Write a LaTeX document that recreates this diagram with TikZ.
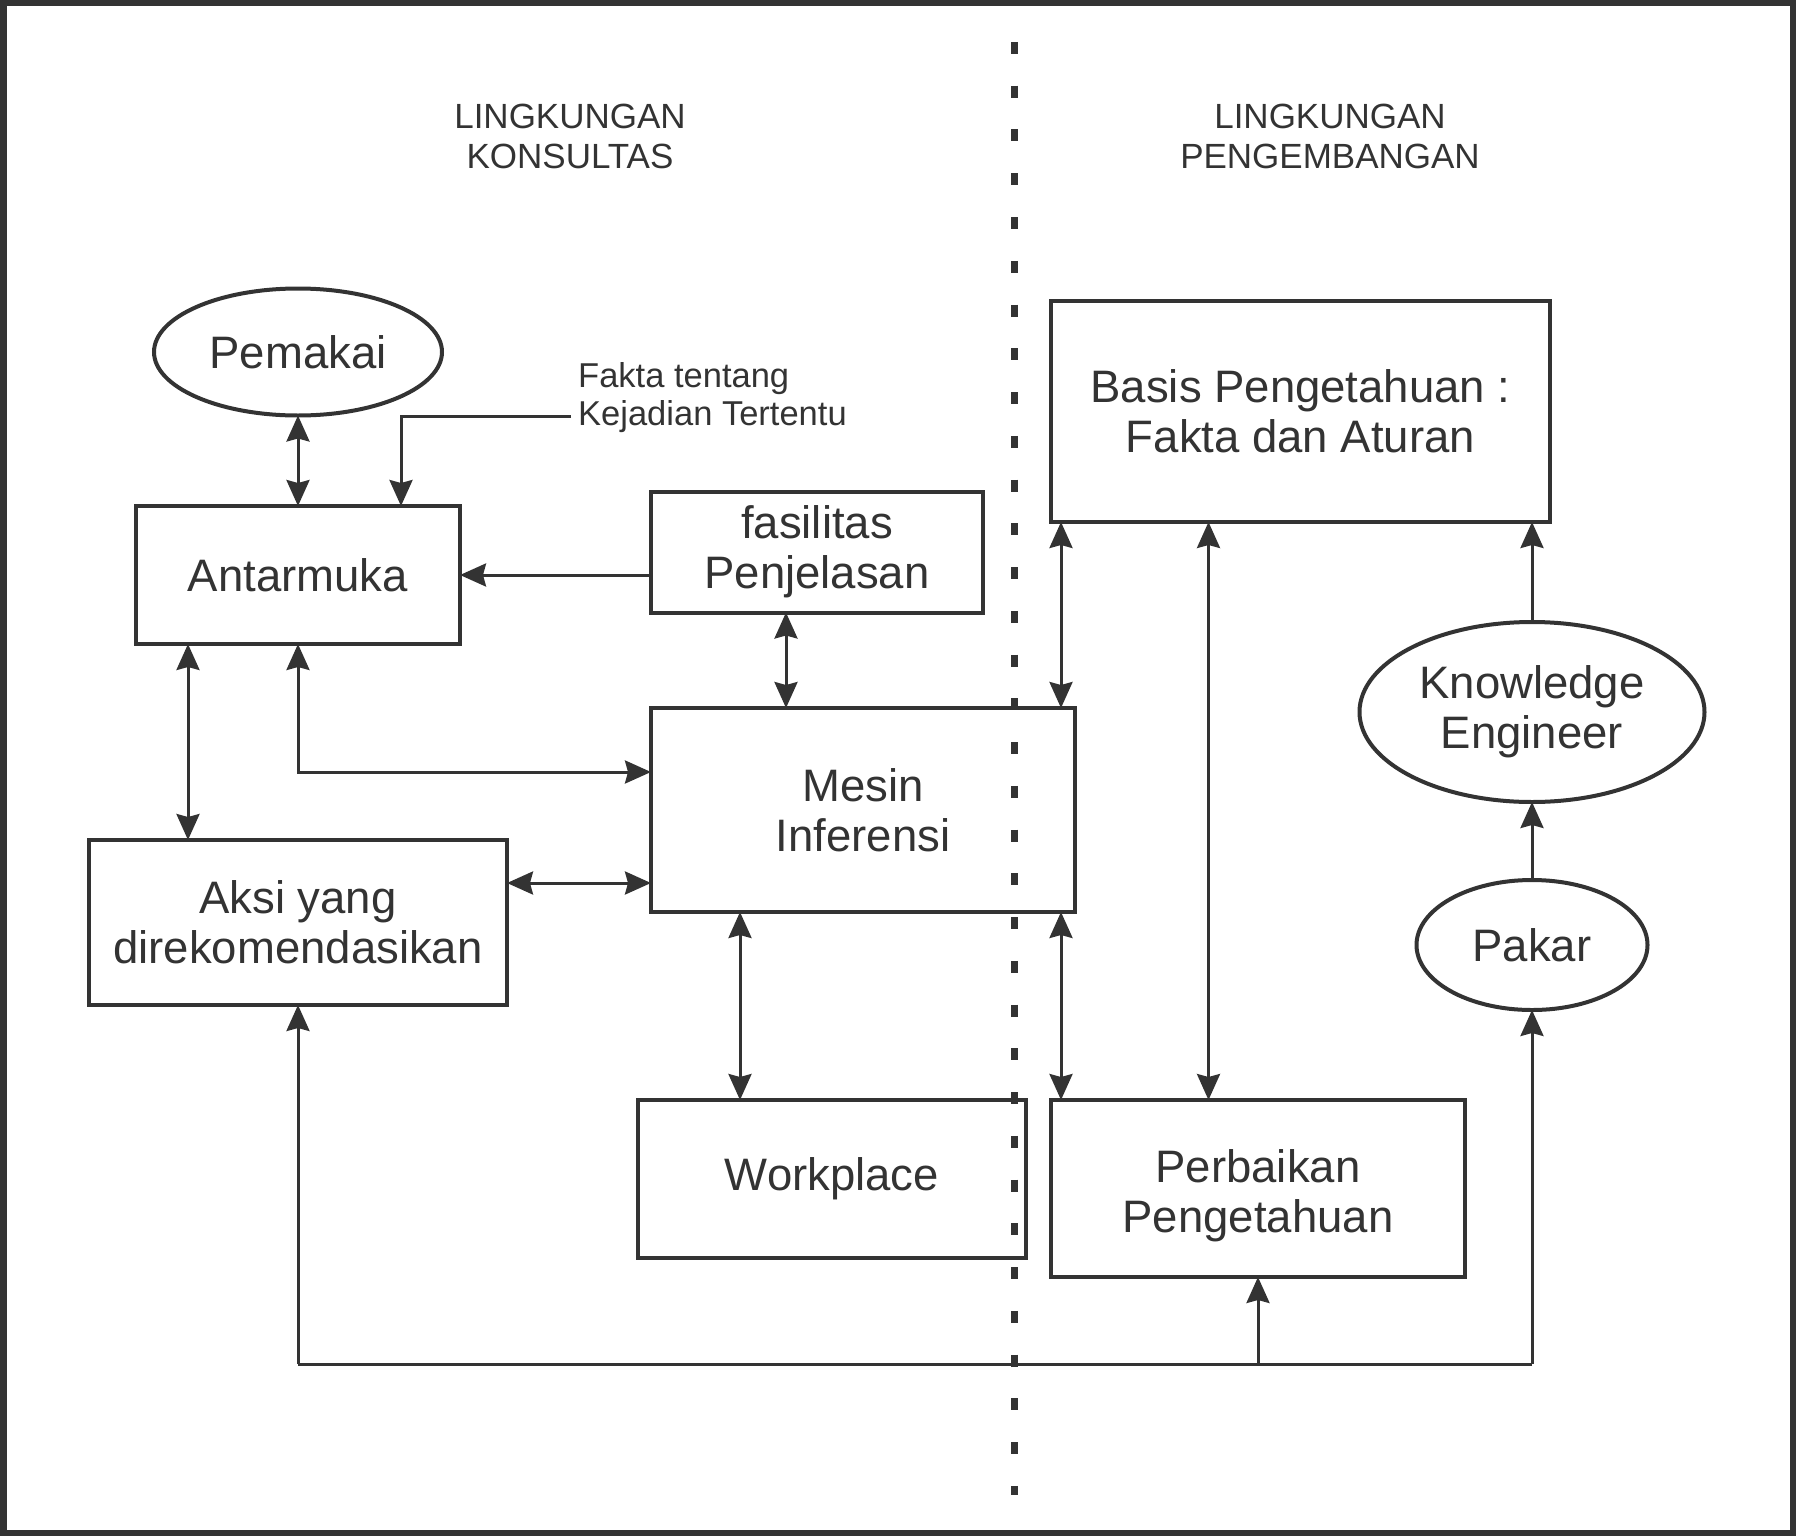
\documentclass[tikz,border=0pt]{standalone}
\usepackage{fontspec}
\setmainfont{Liberation Sans}
\usetikzlibrary{arrows.meta,shapes.geometric}
\definecolor{ink}{HTML}{333333}
\begin{document}
\begin{tikzpicture}[x=1pt,y=1pt,
  box/.style={draw=ink,line width=4pt,fill=white,rectangle,inner sep=0pt,outer sep=0pt,text=ink,align=center,font=\fontsize{45.5}{50}\selectfont},
  oval/.style={draw=ink,line width=4pt,fill=white,ellipse,inner sep=0pt,outer sep=0pt,text=ink,align=center,font=\fontsize{45.5}{50}\selectfont},
  label/.style={text=ink,inner sep=0pt},
  conn/.style={draw=ink,line width=3pt},
  dbl/.style={conn,{Stealth[length=26pt,width=23pt,inset=3pt]}-{Stealth[length=26pt,width=23pt,inset=3pt]}},
  one/.style={conn,-{Stealth[length=26pt,width=23pt,inset=3pt]}},
  divider/.style={draw=ink,line width=7pt,dash pattern=on 12pt off 31.75pt}]
\useasboundingbox (0,0) rectangle (1796,-1536);
\draw[ink,line width=6.5pt] (3.25,-3.25) rectangle (1792.75,-1532.75);

% headings
\node[label,align=center,font=\fontsize{35}{40}\selectfont] (h1) at (570,-136) {LINGKUNGAN\\KONSULTAS};
\node[label,align=center,font=\fontsize{35}{40}\selectfont] (h2) at (1330,-136) {LINGKUNGAN\\PENGEMBANGAN};

% nodes
\node[oval,minimum width=288pt,minimum height=127pt] (pem) at (298,-352) {Pemakai};
\node[box,minimum width=324pt,minimum height=138pt] (ant) at (298,-575) {Antarmuka};
\node[box,minimum width=332pt,minimum height=121pt] (fas) at (817,-552) {fasilitas\\Penjelasan};
\node[box,minimum width=424pt,minimum height=204pt] (mes) at (863,-810) {Mesin\\Inferensi};
\node[box,minimum width=418pt,minimum height=165pt] (aksi) at (298,-922.5) {Aksi yang\\direkomendasikan};
\node[box,minimum width=388pt,minimum height=158pt] (wp) at (832,-1179) {Workplace};
\node[box,minimum width=414pt,minimum height=177pt,text height=87pt,text depth=0pt] (per) at (1258,-1188.5) {Perbaikan\\Pengetahuan};
\node[box,minimum width=499pt,minimum height=221pt] (bas) at (1300.5,-411.5) {Basis Pengetahuan :\\Fakta dan Aturan};
\node[oval,minimum width=345pt,minimum height=180pt] (ke) at (1532,-712) {Knowledge\\Engineer};
\node[oval,minimum width=231pt,minimum height=130pt] (pak) at (1532,-945) {Pakar};

\node[label,anchor=west,align=left,font=\fontsize{34.5}{38}\selectfont] (fakta) at (578,-398) {Fakta tentang\\Kejadian Tertentu};
\coordinate (fk) at (571,-416);
\coordinate (bl) at (298,-1364);
\coordinate (br) at (1532,-1364);
\coordinate (d1) at (1014,-42);
\coordinate (d2) at (1014,-1495);

% connectors
\draw[dbl] (pem.south) -- (ant.north);
\draw[one] (fk) -| (401,-506);
\draw[one] (fas.west |- ant.east) -- (ant.east);
\draw[dbl] ([xshift=-31pt]fas.south) -- ([xshift=-31pt]fas.south |- mes.north);
\draw[dbl] (ant.south) |- ([yshift=38pt]mes.west);
\draw[dbl] ([xshift=-110pt]ant.south) -- ([xshift=-110pt]ant.south |- aksi.north);
\draw[dbl] ([yshift=39.5pt]aksi.east) -- ([yshift=39.5pt]aksi.east -| mes.west);
\draw[dbl] ([xshift=-123pt]mes.south) -- ([xshift=-123pt]mes.south |- wp.north);
\draw[dbl] ([xshift=10pt]bas.south west) -- ([xshift=10pt]bas.south west |- mes.north);
\draw[dbl] ([xshift=-14pt]mes.south east) -- ([xshift=-14pt]mes.south east |- per.north);
\draw[dbl] ([xshift=-92pt]bas.south) -- ([xshift=-92pt]bas.south |- per.north);
\draw[one] (ke.north) -- (ke.north |- bas.south);
\draw[one] (pak.north) -- (ke.south);
\draw[one] (bl) -- (aksi.south);
\draw[conn] (bl) -- (br);
\draw[one] (br) -- (pak.south);
\draw[one] (per.south |- bl) -- (per.south);

% divider
\draw[divider] (d1) -- (d2);
\end{tikzpicture}
\end{document}
